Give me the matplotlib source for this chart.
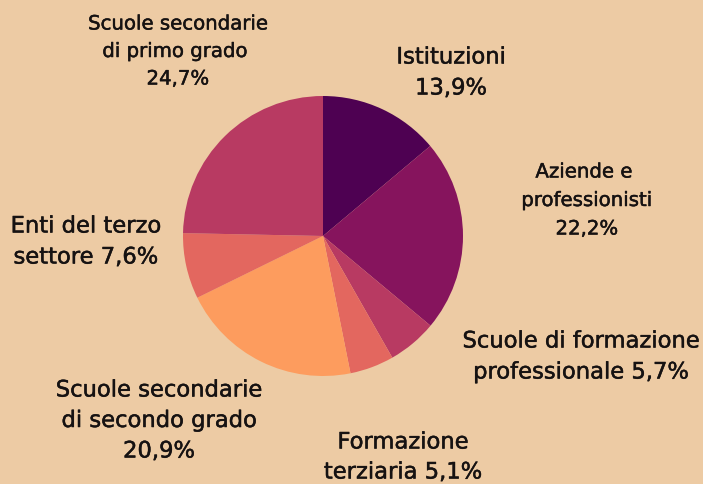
import matplotlib
matplotlib.use("Agg")
import matplotlib.pyplot as plt
import matplotlib.patheffects as pe

categories = ["Istituzioni", "Aziende e professionisti", "Scuole di formazione professionale",
              "Formazione terziaria", "Scuole secondarie di secondo grado",
              "Enti del terzo settore", "Scuole secondarie di primo grado"]
values = [13.9, 22.2, 5.7, 5.1, 20.9, 7.6, 24.7]
colors = ["#4e0152", "#86145d", "#b83a62", "#e3675f", "#fd9c5e", "#e3675f", "#b83a62"]

# label text lines (percentage appended from values)
label_lines = [
    ["Istituzioni", "{p}"],
    ["Aziende e ", "professionisti", "{p}"],
    ["Scuole di formazione", "professionale {p}"],
    ["Formazione", "terziaria {p}"],
    ["Scuole secondarie", "di secondo grado", "{p}"],
    ["Enti del terzo", "settore {p}"],
    ["Scuole secondarie", "di primo grado ", "{p}"],
]

W, H = 703, 485
fig = plt.figure(figsize=(W / 100, H / 100), dpi=100)
fig.patch.set_facecolor("#edcba4")
ax = fig.add_axes([0, 0, 1, 1])

ax.pie(values, colors=colors, startangle=90, counterclock=False,
       center=(323, H - 237), radius=140, frame=True,
       wedgeprops=dict(linewidth=0))
ax.set_xlim(0, W)
ax.set_ylim(0, H)
ax.set_aspect("equal")
ax.axis("off")

# positions (x center, y of first line from top, line step, font size)
layout = [
    (451, 58, 31, 16.3),
    (587, 173, 28.5, 14.2),
    (581, 342, 31, 16.3),
    (403, 443, 30, 16.3),
    (159, 391, 30.5, 16.3),
    (86, 227, 31, 16.3),
    (178, 25, 27.5, 14.2),
]

stroke = [pe.withStroke(linewidth=0.35, foreground="#161212")]
for lines, val, (x, y0, step, fs) in zip(label_lines, values, layout):
    pct = f"{val:.1f}".replace(".", ",") + "%"
    for i, ln in enumerate(lines):
        ax.text(x, H - (y0 + i * step), ln.format(p=pct), ha="center", va="center",
                fontsize=fs, color="#161212", family="DejaVu Sans",
                path_effects=stroke)

fig.savefig("out.png", dpi=100, facecolor=fig.get_facecolor())
